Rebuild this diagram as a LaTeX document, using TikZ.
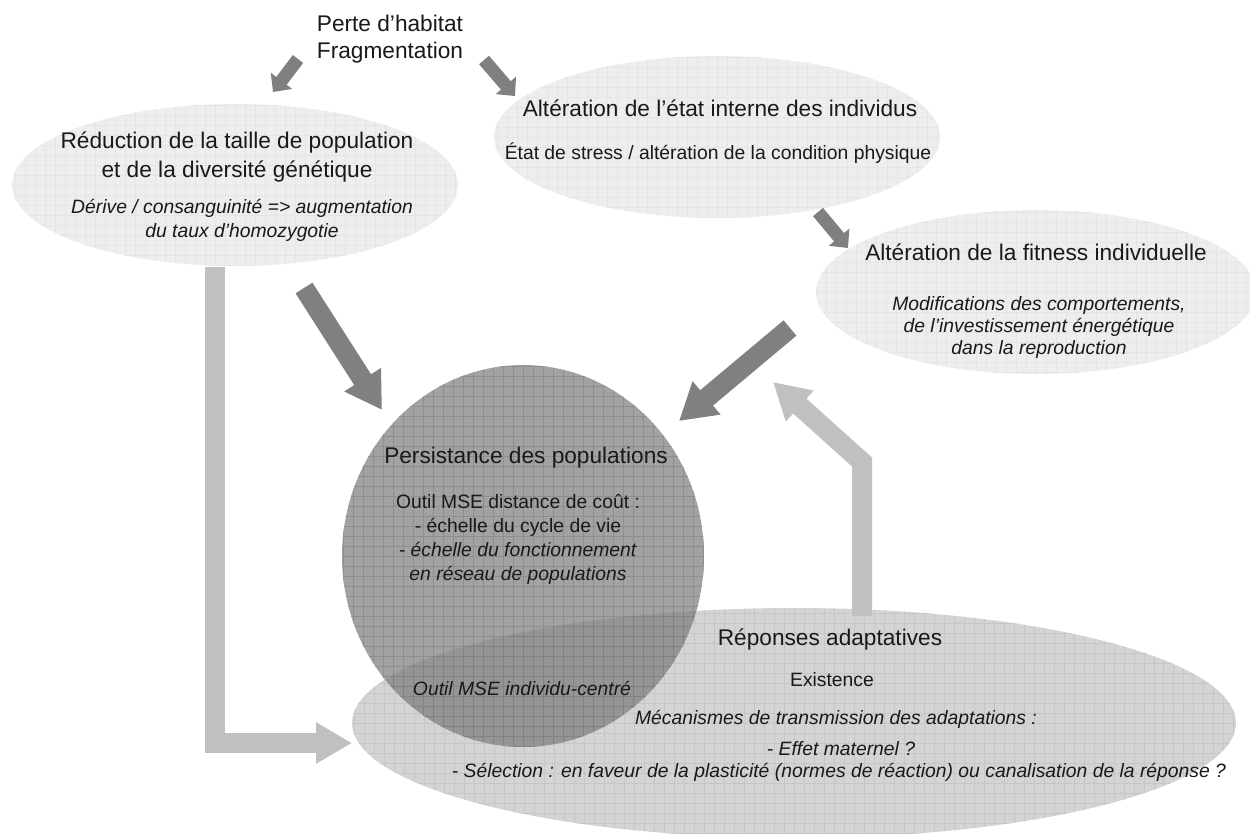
\documentclass[tikz,border=0pt]{standalone}
\usepackage{fontspec}
\setmainfont{Liberation Sans}
\usetikzlibrary{shapes.geometric,arrows.meta,positioning}
\definecolor{PaleFill}{RGB}{238,238,238}
\definecolor{PaleGrid}{RGB}{229,229,229}
\definecolor{MidFill}{RGB}{162,162,162}
\definecolor{MidGrid}{RGB}{142,142,142}
\definecolor{LightFill}{RGB}{212,212,212}
\definecolor{LightGrid}{RGB}{198,198,198}
\definecolor{ArrowDark}{RGB}{128,128,128}
\definecolor{ArrowPale}{RGB}{192,192,192}
\definecolor{TextDark}{RGB}{25,25,25}
\tikzset{
  pale/.style={ellipse,fill=PaleFill,inner sep=0pt,
    path picture={\draw[PaleGrid,line width=0.4pt,step=0.2cm]
      (path picture bounding box.south west) grid (path picture bounding box.north east);}},
  light/.style={ellipse,fill=LightFill,inner sep=0pt,
    path picture={\draw[LightGrid,line width=0.5pt,step=0.2cm]
      (path picture bounding box.south west) grid (path picture bounding box.north east);}},
  mid/.style={ellipse,fill=MidFill,inner sep=0pt,
    path picture={\draw[MidGrid,line width=0.5pt,step=0.2cm]
      (path picture bounding box.south west) grid (path picture bounding box.north east);}},
  ttl/.style={font=\fontsize{12.9}{16.5}\selectfont,text=TextDark,align=center,inner sep=0pt},
  sub/.style={font=\fontsize{11}{13.7}\selectfont,text=TextDark,align=center,inner sep=0pt},
  subit/.style={sub,font=\fontsize{11}{13.7}\selectfont\itshape},
  arrs/.style={-{Triangle[length=0.28cm,width=0.52cm]},draw=ArrowDark,line width=0.26cm},
  arrb/.style={-{Triangle[length=0.72cm,width=0.82cm]},draw=ArrowDark,line width=0.4cm},
  arrp/.style={-{Triangle[length=0.72cm,width=0.78cm]},draw=ArrowPale,line width=0.4cm,line join=miter},
}

\begin{document}
\begin{tikzpicture}[x=0.02cm,y=-0.02cm]
  \useasboundingbox (0,0) rectangle (1250,834);
  % source
  \node[ttl,font=\fontsize{12.9}{15.1}\selectfont] (perte) at (390,39) {Perte d'habitat\\Fragmentation};
  % upper ellipses
  \node[pale,minimum width=8.92cm,minimum height=3.24cm] (redu) at (235,185) {};
  \node[ttl] (redut) at (237,157.5) {Réduction de la taille de population\\et de la diversité génétique};
  \node[subit] (redus) at (242,220) {Dérive / consanguinité => augmentation\\du taux d'homozygotie};
  \node[pale,minimum width=8.92cm,minimum height=3.24cm] (etat) at (717,137) {};
  \node[ttl] (etatt) at (720,108) {Altération de l'état interne des individus};
  \node[sub] (etats) at (718,153) {État de stress / altération de la condition physique};
  \node[pale,minimum width=8.8cm,minimum height=3.28cm] (fitn) at (1036,292) {};
  \node[ttl] (fitnt) at (1036,252) {Altération de la fitness individuelle};
  \node[subit,font=\fontsize{11}{12.8}\selectfont\itshape] (fitns) at (1039,327.5)
    {Modifications des comportements,\\de l'investissement énergétique\\dans la reproduction};
  % lower shapes
  \node[light,minimum width=17.68cm,minimum height=4.6cm] (rep) at (794,723) {};
  \node[mid,minimum width=7.24cm,minimum height=7.64cm] (pers) at (523,556) {};
  \begin{scope}
    \clip (pers.center) ellipse [x radius=3.62cm,y radius=3.82cm];
    \fill[black,opacity=0.08] (rep.center) ellipse [x radius=8.84cm,y radius=2.3cm];
  \end{scope}
  \node[ttl] (perst) at (526,458) {Persistance des populations};
  \node[sub,font=\fontsize{11}{13.5}\selectfont] (perss) at (518,539.5)
    {Outil MSE distance de coût :\\- échelle du cycle de vie\\\textit{- échelle du fonctionnement}\\\textit{en réseau de populations}};
  \node[subit] (persi) at (522,688) {Outil MSE individu-centré};
  \node[ttl] (rept) at (830,640) {Réponses adaptatives};
  \node[sub] (repe) at (832,680) {Existence};
  \node[subit] (repm) at (836,719) {Mécanismes de transmission des adaptations :};
  \node[subit] (repf) at (841,749) {- Effet maternel ?};
  \node[subit] (reps) at (839,772) {- Sélection : en faveur de la plasticité (normes de réaction) ou canalisation de la réponse ?};
  % arrow ends
  \coordinate (a1s) at (298,59);  \coordinate (a1e) at (273,92);
  \coordinate (a2s) at (484,60);  \coordinate (a2e) at (515,96);
  \coordinate (a3s) at (818,212); \coordinate (a3e) at (848,248);
  \coordinate (a4s) at (304,288); \coordinate (a4e) at (382,410);
  \coordinate (a5s) at (790,328); \coordinate (a5e) at (679,421);
  \coordinate (a6s) at (215,267); \coordinate (a6e) at (352,743);
  \coordinate (a7s) at (862,616); \coordinate (a7b) at (862,462); \coordinate (a7e) at (773,382);
  \draw[arrs] (a1s) -- (a1e);
  \draw[arrs] (a2s) -- (a2e);
  \draw[arrs] (a3s) -- (a3e);
  \draw[arrb] (a4s) -- (a4e);
  \draw[arrb] (a5s) -- (a5e);
  \draw[arrp] (a6s) |- (a6e);
  \draw[arrp] (a7s) -- (a7b) -- (a7e);
\end{tikzpicture}
\end{document}
